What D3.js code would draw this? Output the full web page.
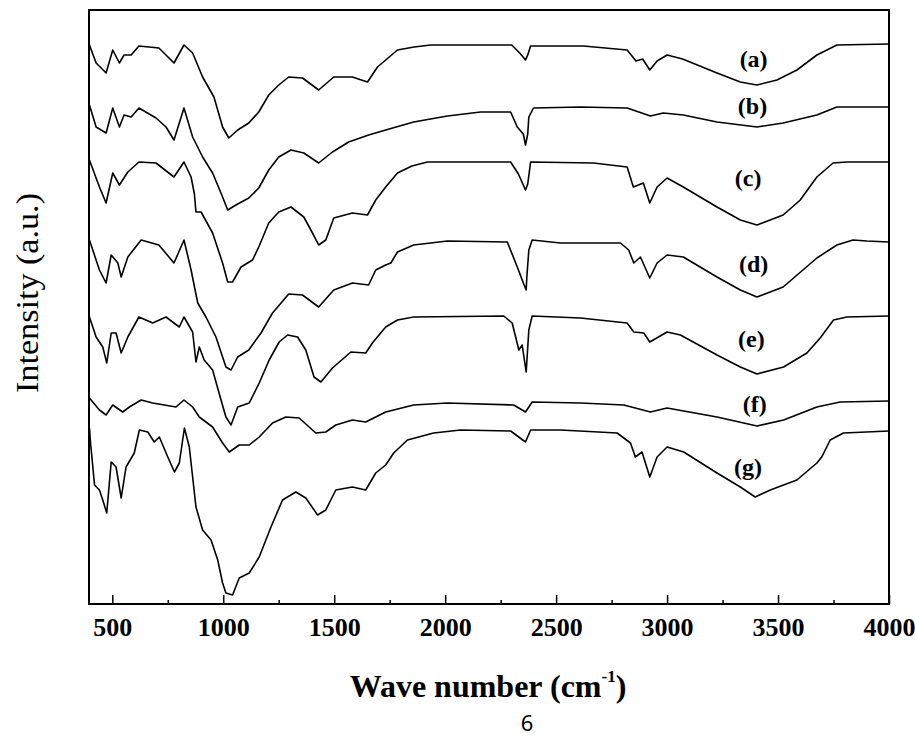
<!DOCTYPE html>
<html>
<head lang="en">
  <meta charset="UTF-8">
  <title>FTIR spectra (a)-(g)</title>
</head>
<style>
  body { margin: 0; background: #fff; }
  #chart .trace { fill: none; stroke: #000; stroke-width: 1.6; stroke-linejoin: round; }
  #chart .frame { fill: none; stroke: #000; stroke-width: 2; }
  #chart .tick line { stroke: #000; stroke-width: 1.5; }
  #chart .domain { display: none; }
</style>
<body>

<svg id="chart" width="915" height="741"></svg>

<script src="https://cdn.jsdelivr.net/npm/d3@7/dist/d3.min.js"></script>
<script>
  // Spectra: wave number (cm-1) and intensity (a.u., offset traces)
  var waveA = [397,427,450,472,502,532,553,585,620,710,778,823,862,907,958,997,1025,1065,1115,1160,1205,1250,1295,1357,1430,1498,1582,1650,1695,1732,1785,1860,1935,2300,2340,2362,2372,2385,2623,2820,2860,2890,2922,2955,3000,3070,3225,3330,3405,3495,3585,3675,3765,4000];
  var intA  = [559,541,536,531,554,541,549,549,558,556,541,559,551,527,507,477,466,474,481,492,509,519,527,526,514,527,527,522,537,544,554,557,559,559,550,544,549,558,558,554,543,545,534,543,549,545,531,522,519,524,534,549,559,560];

  var waveB = [397,427,472,502,532,553,585,620,697,742,778,823,862,907,952,997,1020,1057,1115,1160,1205,1250,1305,1363,1430,1492,1565,1655,1732,1858,2010,2160,2295,2325,2352,2362,2372,2377,2398,2610,2820,2925,2983,3073,3225,3405,3523,3675,3765,4000];
  var intB  = [499,477,471,496,477,489,487,496,486,477,464,496,467,447,431,407,394,399,406,416,434,447,454,451,441,452,462,469,474,482,488,492,492,477,470,459,470,487,496,497,496,488,491,489,482,477,481,489,497,497];

  var waveC = [397,442,472,502,532,570,620,697,778,823,855,870,877,900,952,997,1020,1042,1080,1132,1160,1205,1250,1305,1363,1402,1430,1462,1498,1582,1650,1687,1732,1785,1850,1920,2295,2330,2362,2372,2385,2668,2820,2848,2893,2922,2955,3000,3073,3225,3330,3405,3523,3600,3675,3748,3810,4000];
  var intC  = [444,417,401,431,419,432,442,441,427,442,427,410,392,392,371,341,322,322,337,344,357,381,392,397,387,371,359,364,386,391,389,404,417,431,438,442,442,430,414,420,442,441,437,417,421,401,417,426,417,397,384,379,389,404,427,441,442,442];

  var waveD = [397,442,472,495,525,540,570,630,710,778,823,855,885,922,967,1012,1035,1065,1115,1170,1222,1295,1357,1430,1498,1582,1655,1687,1732,1755,1785,1858,2010,2280,2325,2354,2365,2368,2377,2392,2520,2790,2827,2850,2880,2922,2955,3000,3073,3225,3330,3405,3523,3675,3765,3838,3900,4000];
  var intD  = [364,334,321,349,341,327,347,364,359,341,364,334,301,287,267,237,234,247,254,271,291,310,309,297,314,321,319,334,339,341,352,359,363,362,337,320,314,327,354,364,361,361,354,341,347,326,341,349,347,327,314,307,317,346,359,364,363,362];

  var waveE = [397,427,457,475,495,517,540,570,620,682,742,802,823,862,877,892,914,952,990,1012,1035,1065,1117,1162,1207,1252,1290,1335,1372,1409,1440,1492,1575,1642,1672,1732,1785,1858,2264,2302,2332,2347,2365,2377,2392,2610,2820,2850,2895,2922,3000,3060,3225,3330,3405,3525,3630,3690,3750,3810,4000];
  var intE  = [287,267,257,241,271,271,251,267,287,281,287,277,287,272,242,257,244,234,204,187,179,197,201,221,244,262,269,267,254,227,222,236,252,251,261,277,284,287,288,281,254,259,232,274,288,286,281,272,271,262,272,269,249,237,230,237,251,266,284,287,288];

  var waveF = [397,442,472,502,547,577,630,682,787,823,862,892,952,997,1027,1072,1117,1162,1222,1282,1342,1417,1462,1507,1582,1642,1732,1858,2010,2309,2362,2392,2610,2805,2925,3000,3225,3405,3525,3675,3780,4000];
  var intF  = [206,194,189,199,192,197,204,201,197,204,197,187,177,161,152,159,159,167,181,187,186,171,172,179,184,182,192,199,201,199,192,202,201,199,192,196,187,178,184,197,202,203];

  var waveG = [397,402,420,442,457,475,495,517,540,562,599,622,660,689,712,750,780,802,825,847,877,907,945,975,997,1012,1042,1072,1117,1162,1215,1267,1327,1372,1425,1462,1507,1582,1642,1687,1732,1768,1830,1948,2070,2295,2362,2385,2520,2775,2835,2857,2887,2922,2955,3000,3075,3225,3330,3397,3465,3585,3675,3697,3735,3795,4000];
  var intG  = [176,161,119,114,104,91,142,137,106,137,151,174,172,162,167,147,132,141,176,157,97,74,64,44,21,11,9,26,31,47,77,104,112,106,89,94,114,117,114,131,139,151,164,171,174,173,162,174,174,171,161,147,152,127,147,157,152,131,117,107,114,124,141,147,164,171,173];

  var seriesNames = ['(a)', '(b)', '(c)', '(d)', '(e)', '(f)', '(g)'];
  var labelWave   = [3390, 3385, 3365, 3390, 3380, 3395, 3365];
  var labelInt    = [537, 490, 418, 332, 257, 192, 129];

  var majorTicks = [500, 1000, 1500, 2000, 2500, 3000, 3500, 4000];
  var minorTicks = [750, 1250, 1750, 2250, 2750, 3250, 3750];

  var plotLeft = 89, plotRight = 889, plotTop = 10, plotBottom = 604;

  var svg = d3.select('#chart');

  var x = d3.scaleLinear().domain([395, 4000]).range([plotLeft, plotRight]);
  var y = d3.scaleLinear().domain([0, 594]).range([plotBottom, plotTop]);

  var traces = [
    d3.zip(waveA, intA), d3.zip(waveB, intB), d3.zip(waveC, intC),
    d3.zip(waveD, intD), d3.zip(waveE, intE), d3.zip(waveF, intF),
    d3.zip(waveG, intG)
  ];

  var line = d3.line()
    .x(function (d) { return x(d[0]); })
    .y(function (d) { return y(d[1]); });

  svg.selectAll('path.trace')
    .data(traces)
    .enter()
      .append('path')
      .attr('class', 'trace')
      .attr('d', line);

  // series labels
  svg.selectAll('text.lbl')
    .data(seriesNames)
    .enter()
      .append('text')
      .attr('class', 'lbl')
      .attr('x', function (d, i) { return x(labelWave[i]); })
      .attr('y', function (d, i) { return y(labelInt[i]); })
      .attr('text-anchor', 'middle')
      .style('font-family', '"Liberation Serif", serif')
      .style('font-weight', 'bold')
      .style('font-size', '24px')
      .text(function (d) { return d; });

  // bottom axis: major ticks point into the plot
  var xAxis = d3.axisBottom(x)
    .tickValues(majorTicks)
    .tickSizeInner(-9)
    .tickSizeOuter(0)
    .tickPadding(14)
    .tickFormat(d3.format('d'));

  var gx = svg.append('g')
    .attr('transform', 'translate(0,' + plotBottom + ')')
    .call(xAxis);

  gx.selectAll('text')
    .style('font-family', '"Liberation Serif", serif')
    .style('font-weight', 'bold')
    .style('font-size', '26px')
    .attr('fill', '#000');

  var minorAxis = d3.axisBottom(x)
    .tickValues(minorTicks)
    .tickSizeInner(-4)
    .tickSizeOuter(0)
    .tickFormat('');

  svg.append('g')
    .attr('transform', 'translate(0,' + plotBottom + ')')
    .call(minorAxis);

  svg.append('rect')
    .attr('class', 'frame')
    .attr('x', plotLeft)
    .attr('y', plotTop)
    .attr('width', plotRight - plotLeft)
    .attr('height', plotBottom - plotTop);

  // axis titles
  var xTitle = svg.append('text')
    .attr('x', 488)
    .attr('y', 697)
    .attr('text-anchor', 'middle')
    .style('font-family', '"Liberation Serif", serif')
    .style('font-weight', 'bold')
    .style('font-size', '32px');
  xTitle.append('tspan').text('Wave number (cm');
  xTitle.append('tspan').attr('dy', -15).style('font-size', '17px').text('-1');
  xTitle.append('tspan').attr('dy', 15).text(')');

  svg.append('text')
    .attr('transform', 'translate(38,293) rotate(-90)')
    .attr('text-anchor', 'middle')
    .attr('textLength', 200)
    .attr('lengthAdjust', 'spacingAndGlyphs')
    .style('font-family', '"Liberation Serif", serif')
    .style('font-size', '32px')
    .text('Intensity (a.u.)');

  svg.append('text')
    .attr('x', 527)
    .attr('y', 731)
    .attr('text-anchor', 'middle')
    .style('font-family', '"Noto Sans", sans-serif')
    .style('font-size', '22px')
    .text('6');

</script>
</body>
</html>
